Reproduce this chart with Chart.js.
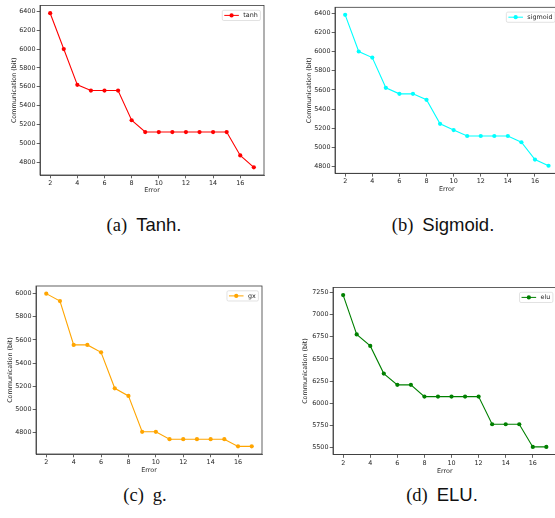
<!DOCTYPE html>
<html>
<head>
<meta charset="utf-8">
<script src="https://cdn.jsdelivr.net/npm/chart.js@4.4.1/dist/chart.umd.min.js"></script>
<style>
  html, body { margin: 0; padding: 0; background: #fff; width: 555px; height: 518px; overflow: hidden; }
  canvas { position: absolute; }
  .cap { position: absolute; transform: translate(-50%, -50%); white-space: nowrap; font-size: 18.5px; color: #111; }
  .cap .tag { font-family: "Liberation Serif", serif; margin-right: 9px; }
  .cap .name { font-family: "Liberation Sans", sans-serif; }
  .cap .serif { font-family: "Liberation Serif", serif; }
</style>
</head>
<body>
<canvas id="chart-a"></canvas>
<canvas id="chart-b"></canvas>
<canvas id="chart-c"></canvas>
<canvas id="chart-d"></canvas>

<div class="cap" style="left:144px; top:225px;"><span class="tag">(a)</span><span class="name">Tanh.</span></div>
<div class="cap" style="left:443px; top:225px;"><span class="tag">(b)</span><span class="name">Sigmoid.</span></div>
<div class="cap" style="left:145px; top:495px;"><span class="tag">(c)</span><span class="serif">g.</span></div>
<div class="cap" style="left:442px; top:495px;"><span class="tag">(d)</span><span class="name">ELU.</span></div>

<script>
// Error level on x, communication cost (bit) on y
const errors = [2, 3, 4, 5, 6, 7, 8, 9, 10, 11, 12, 13, 14, 15, 16, 17];
const tanhComm = [6380, 6000, 5620, 5560, 5560, 5560, 5245, 5120, 5120, 5120, 5120, 5120, 5120, 5120, 4872, 4746];
const sigmoidComm = [6382, 6000, 5937, 5622, 5559, 5559, 5497, 5247, 5182, 5120, 5120, 5120, 5120, 5055, 4874, 4810];
const gxComm = [6000, 5936, 5557, 5557, 5493, 5182, 5116, 4806, 4806, 4742, 4742, 4742, 4742, 4742, 4680, 4680];
const eluComm = [7218, 6775, 6646, 6335, 6208, 6208, 6076, 6076, 6076, 6076, 6076, 5765, 5765, 5765, 5510, 5510];

const xTicks = [2, 4, 6, 8, 10, 12, 14, 16];
const yTicksA = [4800, 5000, 5200, 5400, 5600, 5800, 6000, 6200, 6400];
const yTicksB = [4800, 5000, 5200, 5400, 5600, 5800, 6000, 6200, 6400];
const yTicksC = [4800, 5000, 5200, 5400, 5600, 5800, 6000];
const yTicksD = [5500, 5750, 6000, 6250, 6500, 6750, 7000, 7250];

const FONT = 'DejaVu Sans';
const FS = 6.4;
const LH = FS * 1.2;
const FRAME = '#3a3a3a';
const TEXT = '#262626';

// matplotlib-ish closed frame around the axes
const frame = {
  id: 'frame',
  afterDatasetsDraw(chart) {
    const { ctx, chartArea: a } = chart;
    ctx.save();
    ctx.strokeStyle = FRAME;
    ctx.lineWidth = 0.8;
    ctx.strokeRect(a.left, a.top, a.right - a.left, a.bottom - a.top);
    ctx.restore();
  }
};

// legend box in the upper right corner, inside the axes
const boxLegend = {
  id: 'boxLegend',
  afterDraw(chart) {
    const { ctx, chartArea: a } = chart;
    const ds = chart.data.datasets[0];
    ctx.save();
    ctx.font = `${FS}px "${FONT}"`;
    const tw = ctx.measureText(ds.label).width;
    const w = 2 + 14.6 + 4.4 + tw + 2.6, h = 10.2;
    const x = a.right - 3.6 - w, y = a.top + 4.8;
    ctx.fillStyle = 'rgba(255,255,255,0.85)';
    ctx.strokeStyle = '#d6d6d6';
    ctx.lineWidth = 0.7;
    ctx.beginPath();
    ctx.roundRect(x, y, w, h, 1.5);
    ctx.fill();
    ctx.stroke();
    const cy = y + h / 2;
    ctx.strokeStyle = ds.borderColor;
    ctx.lineWidth = 1;
    ctx.beginPath();
    ctx.moveTo(x + 2, cy);
    ctx.lineTo(x + 16.6, cy);
    ctx.stroke();
    ctx.fillStyle = ds.borderColor;
    ctx.beginPath();
    ctx.arc(x + 9.3, cy, 2.1, 0, Math.PI * 2);
    ctx.fill();
    ctx.fillStyle = TEXT;
    ctx.textBaseline = 'middle';
    ctx.fillText(ds.label, x + 21, cy + 0.4);
    ctx.restore();
  }
};

function makePanel(id, label, color, values, yTicks, area, titleX, titleY) {
  const el = document.getElementById(id);
  const left = Math.round(area.left - 40);
  const top = Math.round(area.top - 6);
  const width = Math.round(area.right + 6) - left;
  const height = Math.round(area.bottom + 25) - top;
  el.width = width;
  el.height = height;
  el.style.left = left + 'px';
  el.style.top = top + 'px';

  const lo = Math.min(...values), hi = Math.max(...values);
  const pad = (hi - lo) * 0.05;

  return new Chart(el, {
    type: 'line',
    data: {
      datasets: [{
        label,
        data: values.map((v, i) => ({ x: errors[i], y: v })),
        borderColor: color,
        backgroundColor: color,
        borderWidth: 1.1,
        pointRadius: 2.1,
        pointBorderWidth: 0,
        pointBackgroundColor: color,
        tension: 0,
        fill: false,
      }],
    },
    options: {
      responsive: false,
      animation: false,
      devicePixelRatio: 1,
      layout: { padding: { left: area.left - 40 - left, top: area.top - top, right: width - (area.right - left), bottom: 0 } },
      plugins: { legend: { display: false }, tooltip: { enabled: false } },
      scales: {
        x: {
          type: 'linear',
          min: 1.25,
          max: 17.75,
          afterBuildTicks: axis => { axis.ticks = xTicks.map(v => ({ value: v })); },
          afterFit: axis => { axis.height = height - (area.bottom - top); },
          ticks: { color: TEXT, font: { family: FONT, size: FS }, padding: 1.3, maxRotation: 0, autoSkip: false, callback: v => String(v) },
          grid: { drawOnChartArea: false, tickLength: 3.3, color: FRAME, lineWidth: 0.8 },
          border: { color: FRAME, width: 0.8 },
          title: {
            display: true, text: 'Error', color: TEXT,
            font: { family: FONT, size: FS, lineHeight: 1.2 },
            padding: { top: 0, bottom: (top + height) - titleY - LH / 2 },
          },
        },
        y: {
          type: 'linear',
          min: lo - pad,
          max: hi + pad,
          afterBuildTicks: axis => { axis.ticks = yTicks.map(v => ({ value: v })); },
          afterFit: axis => { axis.width = area.left - left; },
          ticks: { color: TEXT, font: { family: FONT, size: FS }, padding: 1.2, autoSkip: false, callback: v => String(v) },
          grid: { drawOnChartArea: false, tickLength: 3.3, color: FRAME, lineWidth: 0.8 },
          border: { color: FRAME, width: 0.8 },
          title: {
            display: true, text: 'Communication (bit)', color: TEXT,
            font: { family: FONT, size: FS, lineHeight: 1.2 },
            padding: { top: titleX - left - LH / 2, bottom: 0 },
          },
        },
      },
    },
    plugins: [frame, boxLegend],
  });
}

makePanel('chart-a', 'tanh', '#ff0000', tanhComm, yTicksA,
  { left: 40, top: 5.5, right: 264, bottom: 175 }, 14, 190);
makePanel('chart-b', 'sigmoid', '#00ffff', sigmoidComm, yTicksB,
  { left: 335, top: 7.3, right: 558.7, bottom: 173.3 }, 309, 189);
makePanel('chart-c', 'gx', '#ffa500', gxComm, yTicksC,
  { left: 36.5, top: 286, right: 262, bottom: 454 }, 11, 470.7);
makePanel('chart-d', 'elu', '#008000', eluComm, yTicksD,
  { left: 333, top: 287.5, right: 556.5, bottom: 454.5 }, 305, 471);
</script>
</body>
</html>
